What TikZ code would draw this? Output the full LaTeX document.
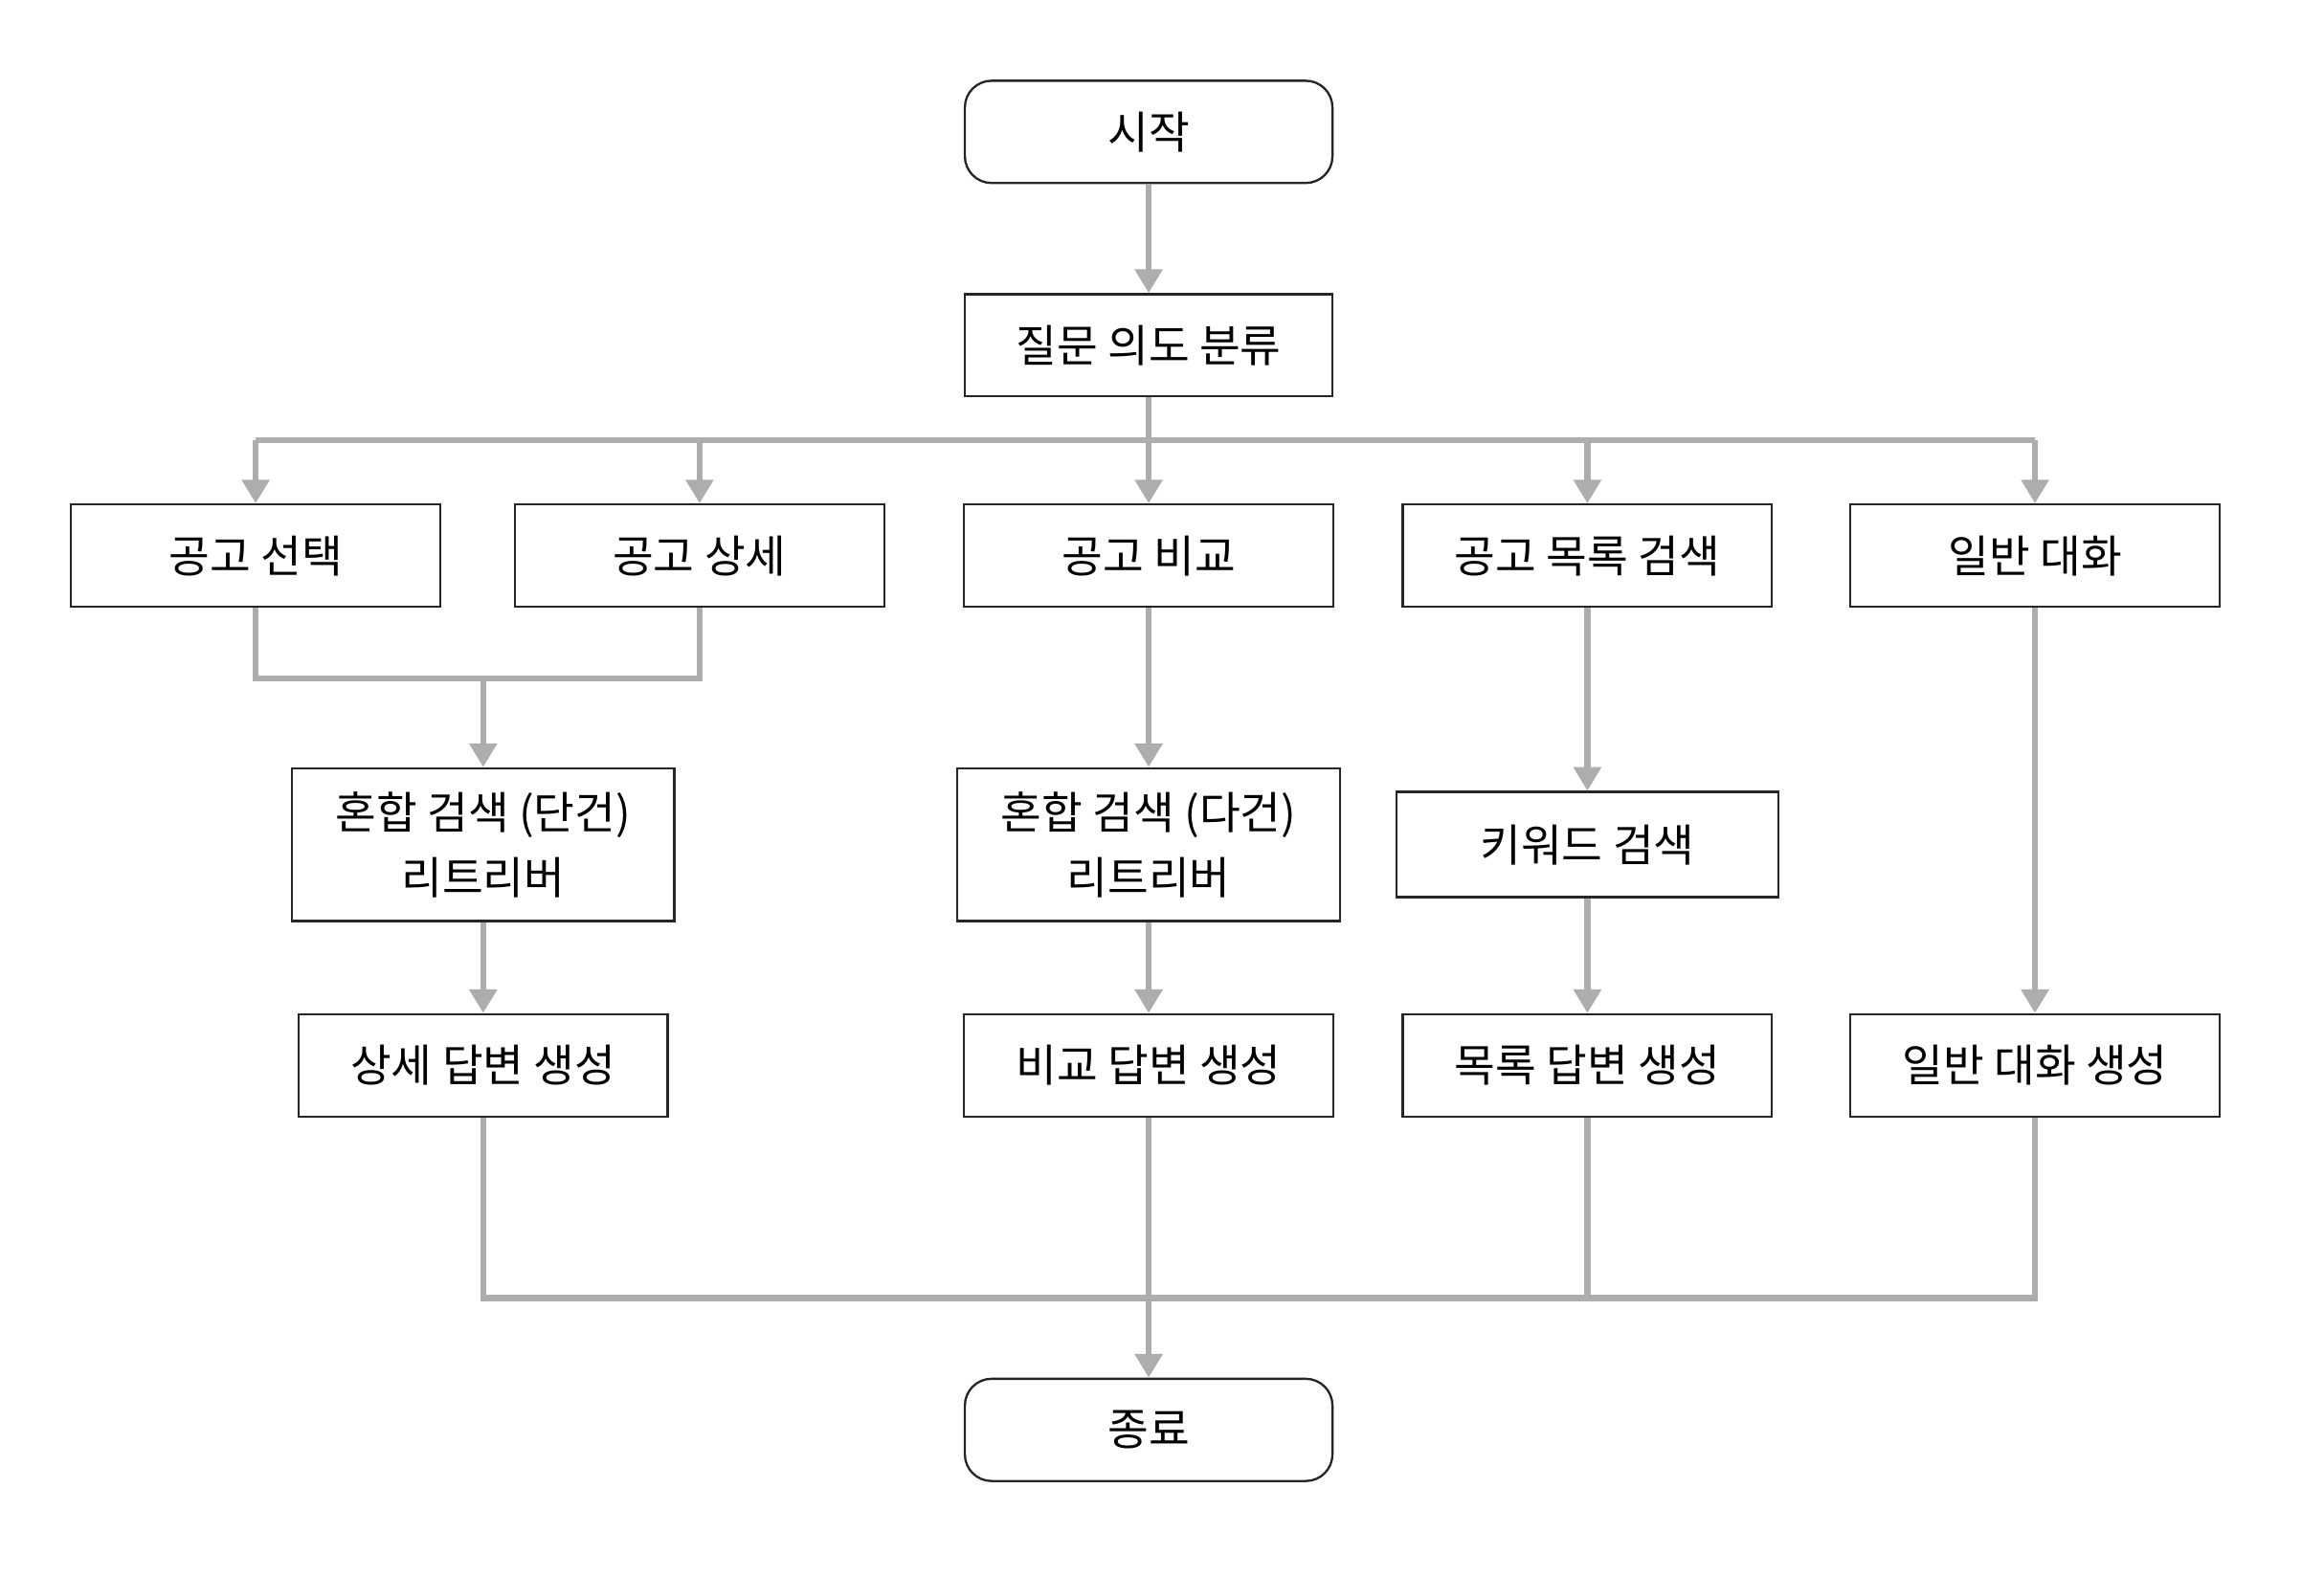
\documentclass[tikz,border=0pt]{standalone}
\usepackage{fontspec}
\newfontfamily\kr{Noto Sans CJK KR}
\usetikzlibrary{arrows.meta}
\begin{document}
\begin{tikzpicture}[x=1pt,y=-1pt,
 box/.style={draw=black!85,line width=1.5pt,fill=white,minimum height=69pt,inner sep=0pt,align=center,font=\kr\fontsize{30}{44}\selectfont},
 rbox/.style={box,rounded corners=18pt},
 flow/.style={draw=black!32,line width=4pt,-{Triangle[length=16pt,width=18pt]}},
 line/.style={draw=black!32,line width=4pt}]
\useasboundingbox (0,0) rectangle (1568,1064);
\node[rbox,minimum width=248pt] (start) at (775,89) {시작};
\node[box,minimum width=248pt] (cls) at (775,233) {질문 의도 분류};
\node[box,minimum width=249pt] (sel) at (172.5,375) {공고 선택};
\node[box,minimum width=249pt] (det) at (472,375) {공고 상세};
\node[box,minimum width=249pt] (cmp) at (775,375) {공고 비교};
\node[box,minimum width=249pt] (lst) at (1071,375) {공고 목록 검색};
\node[box,minimum width=249pt] (gen) at (1373,375) {일반 대화};
\node[box,minimum width=258pt,minimum height=103pt] (h1) at (326,570) {혼합 검색 (단건)\\리트리버};
\node[box,minimum width=258pt,minimum height=103pt] (h2) at (775,570) {혼합 검색 (다건)\\리트리버};
\node[box,minimum width=258pt,minimum height=71pt] (kw) at (1071,570) {키워드 검색};
\node[box,minimum width=249pt] (a1) at (326,719) {상세 답변 생성};
\node[box,minimum width=249pt] (a2) at (775,719) {비교 답변 생성};
\node[box,minimum width=249pt] (a3) at (1071,719) {목록 답변 생성};
\node[box,minimum width=249pt] (a4) at (1373,719) {일반 대화 생성};
\node[rbox,minimum width=248pt] (end) at (775,965) {종료};
\coordinate (bus) at (775,297);
\coordinate (m) at (326,458);
\coordinate (b) at (775,876);
\draw[flow] (start) -- (cls);
\draw[line] (cls.south) -- (bus);
\draw[line] (sel.north |- bus) -- (gen.north |- bus);
\foreach \n in {sel,det,cmp,lst,gen} \draw[flow] (\n.north |- bus) -- (\n.north);
\draw[line] (sel.south) |- (m) -| (det.south);
\draw[flow] (m) -- (h1);
\draw[flow] (cmp) -- (h2);
\draw[flow] (lst) -- (kw);
\draw[flow] (gen) -- (a4);
\draw[flow] (h1) -- (a1);
\draw[flow] (h2) -- (a2);
\draw[flow] (kw) -- (a3);
\draw[line] (a1.south) |- (b);
\draw[line] (a4.south) |- (b);
\draw[line] (a3.south) -- (a3.south |- b);
\draw[flow] (a2.south) -- (end.north);
\end{tikzpicture}
\end{document}
